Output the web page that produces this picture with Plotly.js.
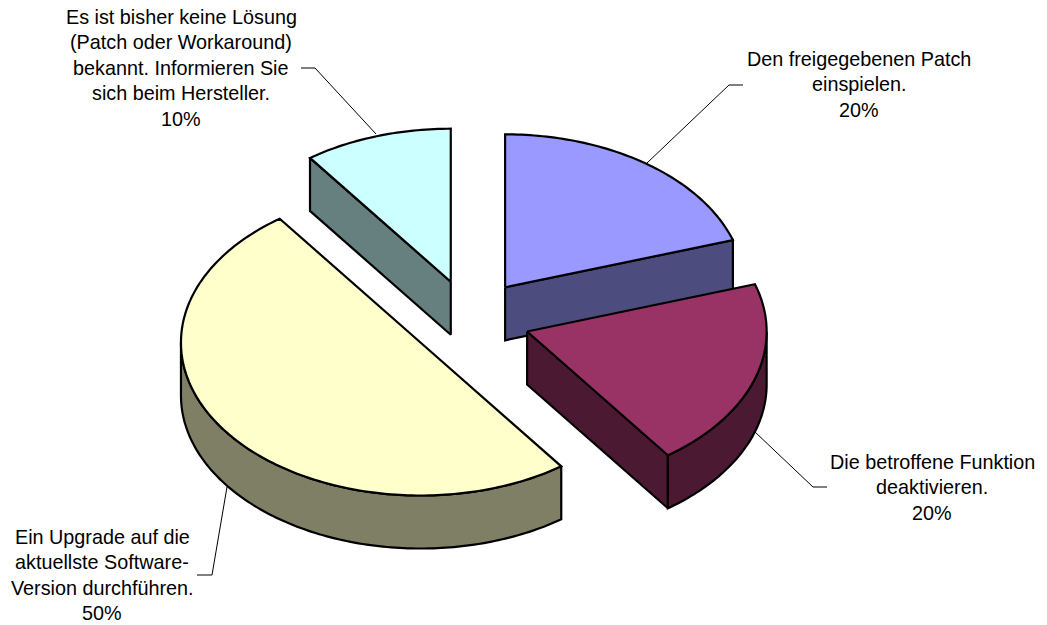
<!DOCTYPE html>
<html>
<head>
<meta charset="utf-8">
<script src="https://cdn.plot.ly/plotly-3.0.1.min.js"></script>
<style>html,body{margin:0;padding:0;background:#fff}</style>
</head>
<body>
<div id="chart" style="width:1047px;height:625px"></div>
<script>
// Data (clockwise from 12 o'clock)
const categories = ['Den freigegebenen Patch einspielen.', 'Die betroffene Funktion deaktivieren.', 'Ein Upgrade auf die aktuellste Software-Version durchführen.', 'Es ist bisher keine Lösung (Patch oder Workaround) bekannt. Informieren Sie sich beim Hersteller.'];
const values = [20, 20, 50, 10];
const labelLines = [
  ['Den freigegebenen Patch', 'einspielen.', '20%'],
  ['Die betroffene Funktion', 'deaktivieren.', '20%'],
  ['Ein Upgrade auf die', 'aktuellste Software-', 'Version durchführen.', '50%'],
  ['Es ist bisher keine Lösung', '(Patch oder Workaround)', 'bekannt. Informieren Sie', 'sich beim Hersteller.', '10%']
];
const topColors = ['#9999FF', '#993366', '#FFFFCC', '#CCFFFF'];
const sideColors = ['#4C4C7F', '#4C1933', '#7F7F66', '#667F7F'];

// Projection of the tilted pie
const cx = 469.5, cy = 319.3, rx = 239.5, ry = 153, depth = 53, pullX = 60.6, pullY = 39.5;
const labelCX = [859, 932, 102, 181];
const labelTopY = [59, 462, 537, 17];
const lineStep = 25.4;
const leaders = [
  'M 647 163 L 729 85 L 743 85',
  'M 755 432 L 813 487 L 827 487',
  'M 227 487 L 212 575 L 197 575',
  'M 376 134 L 315 68 L 301 68'
];

const total = values.reduce((a, b) => a + b, 0);
const rad = d => d * Math.PI / 180;
let acc = 0;
const slices = values.map((v, i) => {
  const start = acc / total * 360;
  acc += v;
  const end = acc / total * 360;
  const mid = rad((start + end) / 2);
  return {i, start, end, ax: cx + pullX * Math.sin(mid), ay: cy - pullY * Math.cos(mid)};
});
const arcPt = (s, t, dz) => [s.ax + rx * Math.sin(rad(t)), s.ay - ry * Math.cos(rad(t)) + dz];
const arc = (s, a, b, dz) => {
  const pts = [];
  const n = Math.max(1, Math.ceil(Math.abs(b - a)));
  for (let k = 0; k <= n; k++) pts.push(arcPt(s, a + (b - a) * k / n, dz));
  return pts;
};
const poly = (pts, fill) => {
  const closed = pts.concat([pts[0]]);
  return {
    type: 'scatter', mode: 'lines', x: closed.map(p => p[0]), y: closed.map(p => p[1]),
    fill: 'toself', fillcolor: fill, line: {color: '#000', width: 2.2, simplify: false},
    hoverinfo: 'skip', showlegend: false
  };
};

const traces = [];
[...slices].sort((a, b) => a.ay - b.ay).forEach(s => {
  const side = sideColors[s.i];
  const apex = [s.ax, s.ay], apexB = [s.ax, s.ay + depth];
  [s.start, s.end].forEach((t, idx) => {
    const sin = Math.sin(rad(t));
    const visible = idx === 0 ? sin < -1e-6 : sin > 1e-6;
    if (visible) traces.push(poly([apex, arcPt(s, t, 0), arcPt(s, t, depth), apexB], side));
  });
  const a = Math.max(s.start, 90), b = Math.min(s.end, 270);
  if (b > a) traces.push(poly(arc(s, a, b, 0).concat(arc(s, b, a, depth)), side));
  traces.push(poly([apex].concat(arc(s, s.start, s.end, 0)), topColors[s.i]));
});

const annotations = [];
labelLines.forEach((lines, i) => lines.forEach((text, k) => annotations.push({
  x: labelCX[i], y: labelTopY[i] + k * lineStep, xref: 'x', yref: 'y', text,
  showarrow: false, xanchor: 'center', yanchor: 'middle',
  font: {family: '"Liberation Sans", Arial, sans-serif', size: 19.8, color: '#000'}
})));

const shapes = leaders.map(path => ({
  type: 'path', path, xref: 'x', yref: 'y', line: {color: '#000', width: 1}, layer: 'above'
}));

Plotly.newPlot('chart', traces, {
  width: 1047, height: 625,
  margin: {l: 0, r: 0, t: 0, b: 0},
  paper_bgcolor: '#fff', plot_bgcolor: '#fff',
  xaxis: {range: [0, 1047], visible: false, fixedrange: true},
  yaxis: {range: [625, 0], visible: false, fixedrange: true},
  showlegend: false, annotations, shapes
}, {displayModeBar: false, responsive: false});
</script>
</body>
</html>
